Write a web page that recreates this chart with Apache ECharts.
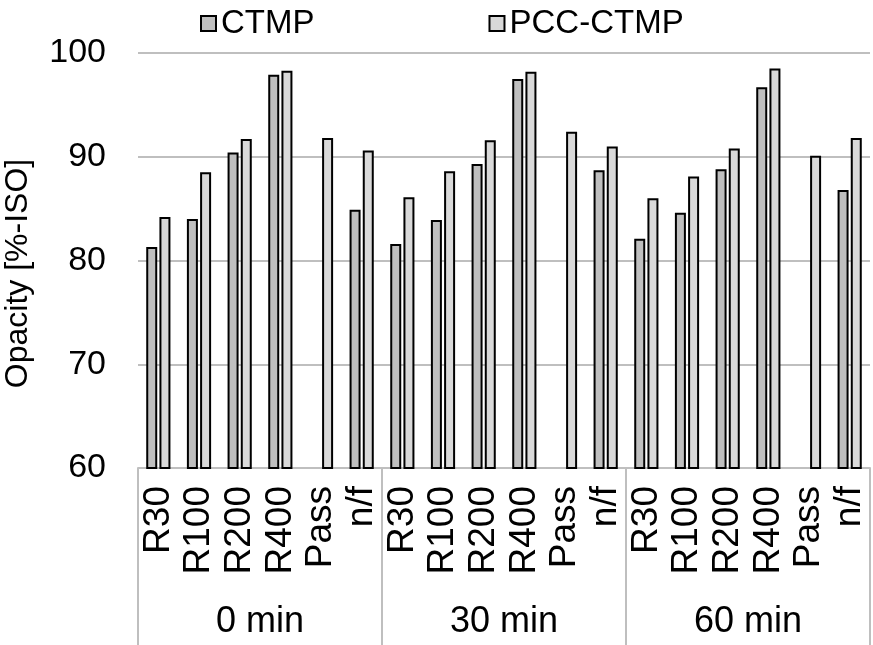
<!DOCTYPE html>
<html>
<head>
<meta charset="utf-8">
<script src="https://cdn.jsdelivr.net/npm/echarts@6/dist/echarts.min.js"></script>
<style>
html,body{margin:0;padding:0;background:#fff;}
#chart{width:873px;height:645px;}
</style>
</head>
<body>
<div id="chart"></div>
<script>
var categories = ['R30','R100','R200','R400','Pass','n/f','R30','R100','R200','R400','Pass','n/f','R30','R100','R200','R400','Pass','n/f'];
var groups = ['0 min','30 min','60 min'];
var ctmp = [81.3, 84.0, 90.4, 97.9, null, 84.9, 81.6, 83.9, 89.3, 97.5, null, 88.7, 82.1, 84.6, 88.8, 96.7, null, 86.8];
var pccCtmp = [84.2, 88.5, 91.7, 98.3, 91.8, 90.6, 86.1, 88.6, 91.6, 98.2, 92.4, 91.0, 86.0, 88.1, 90.8, 98.5, 90.1, 91.8];
var yTicks = [60, 70, 80, 90, 100];

var FONT = '"Liberation Sans", Arial, sans-serif';
var chart = echarts.init(document.getElementById('chart'));
chart.setOption({
  animation: false,
  textStyle: {fontFamily: FONT, color: '#000'},
  legend: {
    left: 195, top: 2, icon: 'rect',
    itemWidth: 15, itemHeight: 15, itemGap: 174,
    textStyle: {fontSize: 33, color: '#000', fontFamily: FONT},
    data: ['CTMP', 'PCC-CTMP']
  },
  grid: {left: 138, right: 3, top: 53, bottom: 177, containLabel: false, outerBoundsMode: 'none'},
  xAxis: [{
    type: 'category',
    data: categories,
    axisLine: {show: true, lineStyle: {color: '#bfbfbf', width: 2}},
    axisTick: {show: false},
    axisLabel: {rotate: 90, interval: 0, margin: 18, fontSize: 37, color: '#000', fontFamily: FONT}
  }, {
    type: 'category',
    position: 'bottom',
    data: groups,
    axisLine: {show: false},
    axisTick: {show: true, interval: 0, length: 177, lineStyle: {color: '#bfbfbf', width: 2}},
    axisLabel: {interval: 0, margin: 136, fontSize: 36, color: '#000', fontFamily: FONT}
  }],
  yAxis: {
    type: 'value', min: yTicks[0], max: yTicks[yTicks.length - 1], interval: 10,
    name: 'Opacity [%-ISO]', nameLocation: 'middle', nameGap: 104, nameRotate: 90,
    nameTextStyle: {fontSize: 32, color: '#000', fontFamily: FONT, padding: [0, 26, 0, 0]},
    axisLine: {show: false}, axisTick: {show: false},
    axisLabel: {margin: 32, fontSize: 34, color: '#000', fontFamily: FONT},
    splitLine: {lineStyle: {color: '#bfbfbf', width: 2}}
  },
  series: [{
    name: 'CTMP', type: 'bar', xAxisIndex: 0, data: ctmp,
    barWidth: 11, barGap: '20%',
    itemStyle: {color: '#bfbfbf', borderColor: '#000', borderWidth: 2}
  }, {
    name: 'PCC-CTMP', type: 'bar', xAxisIndex: 0, data: pccCtmp,
    barWidth: 11, barGap: '20%',
    itemStyle: {color: '#d9d9d9', borderColor: '#000', borderWidth: 2}
  }]
});
</script>
</body>
</html>
